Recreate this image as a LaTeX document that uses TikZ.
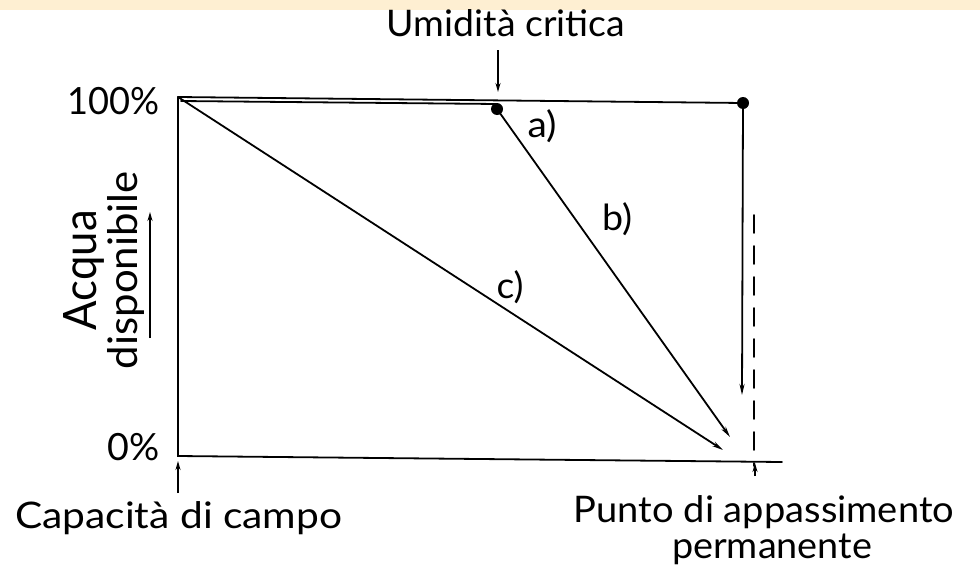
\documentclass[tikz,border=0pt]{standalone}
\usepackage{fontspec}
\setmainfont{Lato}
\usetikzlibrary{arrows.meta}
\definecolor{band}{HTML}{FEEFD2}
\begin{document}
\begin{tikzpicture}[x=1pt,y=-1pt,
  lbl/.style={inner sep=0pt,anchor=base,font=\fontsize{30}{34}\selectfont},
  ln/.style={line width=1.8pt,line cap=round},
  arr/.style={ln,-{Stealth[length=11pt,width=5pt]}},
  sarr/.style={line width=1.5pt,-{Stealth[length=9pt,width=5pt]}},
  dotn/.style={circle,fill=black,inner sep=0pt,minimum size=12pt}]
\fill[white] (0,0) rectangle (980,568);
\useasboundingbox (0,0) rectangle (980,568);
\fill[band] (0,0) rectangle (980,10);
% key points
\coordinate (TL) at (178,97);
\coordinate (BL) at (178,456);
\coordinate (BR) at (782,462);
\node[dotn] (TR) at (743,103) {};
\node[dotn] (CR) at (497,109) {};
\coordinate (TLb) at (181,101);
\coordinate (CRb) at (497,104);
\coordinate (Bend) at (730,437);
\coordinate (Cend) at (723,450);
\coordinate (Vend) at (742,395);
\coordinate (Dtop) at (754,215);
\coordinate (Dbot) at (754,466);
% axes
\draw[ln] (TL) -- (TR.center);
\draw[ln] (TLb) -- (CRb);
\draw[ln] (TL) -- (BL) -- (BR);
% curves
\draw[arr] (CR.center) -- (Bend);
\draw[arr] (TL) -- (Cend);
\draw[arr] (TR.center) -- (Vend);
\draw[ln,dash pattern=on 18pt off 13pt] (Dtop) -- (Dbot);
% labels
\node[lbl] (umid) at (506,36) {\resizebox{238pt}{1.22\height}{Umidità critica}};
\coordinate (uA) at (498,50);
\coordinate (uB) at (498,92);
\draw[sarr] (uA) -- (uB);
\node[lbl,anchor=base east] (p100) at (160,114) {\resizebox{92pt}{1.25\height}{100\%}};
\node[lbl,anchor=base east] (p0) at (160,460) {\resizebox{52pt}{1.25\height}{0\%}};
\node[lbl,anchor=base west] (cap) at (15,528) {\resizebox{327pt}{1.22\height}{Capacità di campo}};
\coordinate (cA) at (178,493);
\coordinate (cB) at (178,461);
\draw[sarr] (cA) -- (cB);
\node[lbl] (punto) at (764,522) {\resizebox{380pt}{1.22\height}{Punto di appassimento}};
\node[lbl] (perm) at (772,558) {\resizebox{200pt}{1.22\height}{permanente}};
\coordinate (pA) at (755,476);
\coordinate (pB) at (755,463);
\draw[sarr] (pA) -- (pB);
\node[lbl,rotate=90] (acqua) at (96,270) {\resizebox{120pt}{33pt}{Acqua}};
\node[lbl,rotate=90] (disp) at (137,270) {\resizebox{198pt}{30pt}{disponibile}};
\coordinate (aA) at (150,338);
\coordinate (aB) at (150,212);
\draw[sarr] (aA) -- (aB);
\node[lbl] (la) at (542,137) {\resizebox{29pt}{1.2\height}{a)}};
\node[lbl] (lb) at (617,230) {\resizebox{30pt}{1.2\height}{b)}};
\node[lbl] (lc) at (510,298) {\resizebox{27pt}{1.2\height}{c)}};
\end{tikzpicture}
\end{document}
